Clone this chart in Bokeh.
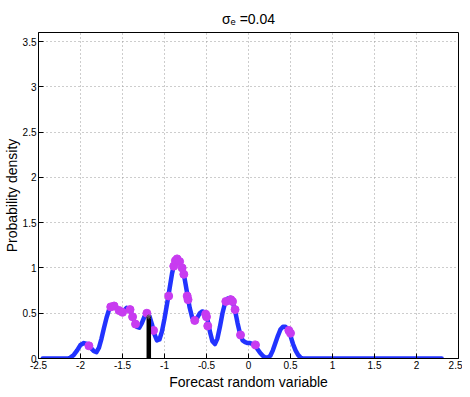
from bokeh.plotting import figure
from bokeh.models import Range1d, FixedTicker, Title
from bokeh.embed import file_html
from bokeh.resources import INLINE

# Density curve
curve_x = [-2.45, -2.15, -2.12, -2.08, -2.04, -2.00, -1.96, -1.92, -1.88, -1.84, -1.81,
           -1.78, -1.75, -1.72, -1.69, -1.66, -1.63, -1.60, -1.57, -1.54, -1.51,
           -1.48, -1.45, -1.42, -1.39, -1.36, -1.33, -1.30, -1.27, -1.24, -1.21,
           -1.18, -1.15, -1.12, -1.09, -1.06, -1.03, -1.00, -0.97, -0.94, -0.91,
           -0.88, -0.85, -0.82, -0.79, -0.76, -0.73, -0.70, -0.67, -0.64, -0.61,
           -0.58, -0.55, -0.52, -0.49, -0.46, -0.43, -0.40, -0.37, -0.34, -0.31,
           -0.28, -0.25, -0.22, -0.19, -0.16, -0.13, -0.10, -0.07, -0.04, -0.01,
           0.02, 0.05, 0.08, 0.11, 0.14, 0.17, 0.20, 0.23, 0.26, 0.29,
           0.32, 0.35, 0.38, 0.41, 0.44, 0.47, 0.50, 0.53, 0.56, 0.59,
           0.62, 0.65, 2.30]
curve_y = [0.0, 0.0, 0.01, 0.04, 0.09, 0.15, 0.17, 0.16, 0.12, 0.08, 0.07,
           0.12, 0.22, 0.34, 0.45, 0.54, 0.58, 0.58, 0.56, 0.53, 0.51,
           0.53, 0.56, 0.55, 0.49, 0.41, 0.35, 0.34, 0.39, 0.46, 0.50,
           0.47, 0.38, 0.27, 0.20, 0.21, 0.30, 0.44, 0.60, 0.77, 0.94,
           1.06, 1.10, 1.07, 1.00, 0.88, 0.72, 0.56, 0.45, 0.42, 0.45,
           0.50, 0.52, 0.51, 0.44, 0.30, 0.19, 0.16, 0.22, 0.35, 0.50,
           0.61, 0.66, 0.67, 0.63, 0.53, 0.39, 0.27, 0.20, 0.18, 0.17,
           0.17, 0.16, 0.14, 0.10, 0.06, 0.03, 0.01, 0.01, 0.03, 0.09,
           0.17, 0.25, 0.32, 0.35, 0.35, 0.32, 0.25, 0.16, 0.09, 0.04,
           0.01, 0.0, 0.0]

# Sample points on the curve
dot_x = [-1.90, -1.64, -1.60, -1.54, -1.50, -1.41, -1.38, -1.345, -1.21, -1.13,
         -0.95, -0.89, -0.87, -0.85, -0.82, -0.79, -0.77, -0.73, -0.72, -0.64,
         -0.51, -0.50, -0.485, -0.27, -0.21, -0.19, -0.16, -0.095, 0.083, 0.48, 0.50]
dot_y = [0.14, 0.57, 0.58, 0.53, 0.51, 0.54, 0.46, 0.38, 0.50, 0.31,
         0.69, 1.02, 1.08, 1.10, 1.07, 1.00, 0.93, 0.69, 0.65, 0.42,
         0.49, 0.46, 0.36, 0.63, 0.65, 0.63, 0.54, 0.26, 0.15, 0.31, 0.28]

# Observation bar
obs_x = [-1.187]
obs_y = [0.46]
obs_base = [0.0]

x_ticks = [-2.5, -2.0, -1.5, -1.0, -0.5, 0.0, 0.5, 1.0, 1.5, 2.0, 2.5]
x_tick_labels = ["-2.5", "-2", "-1.5", "-1", "-0.5", "0", "0.5", "1", "1.5", "2", "2.5"]
y_ticks = [0.0, 0.5, 1.0, 1.5, 2.0, 2.5, 3.0, 3.5]
y_tick_labels = ["0", "0.5", "1", "1.5", "2", "2.5", "3", "3.5"]

title_text = "σₑ =0.04"
x_label = "Forecast random variable"
y_label = "Probability density"

FONT = "Liberation Sans"

p = figure(width=462, height=389, output_backend="svg", toolbar_location=None,
           x_range=Range1d(-2.5, 2.5), y_range=Range1d(0, 3.6),
           min_border_top=32, min_border_right=4, min_border_left=0, min_border_bottom=0)
p.title = Title(text=title_text, align="center", text_font=FONT, text_font_size="14px",
                text_font_style="normal", text_color="black", standoff=12, offset=0)
p.background_fill_color = "white"
p.border_fill_color = "white"
p.outline_line_color = "black"
p.outline_line_width = 1

def style_axis(ax, ticks, labels):
    ax.ticker = FixedTicker(ticks=ticks)
    ax.major_label_overrides = {t: l for t, l in zip(ticks, labels)}
    ax.major_tick_in = 5
    ax.major_tick_out = 0
    ax.minor_tick_line_color = None
    ax.axis_line_color = "black"
    ax.major_tick_line_color = "black"
    ax.major_label_text_font = FONT
    ax.major_label_text_font_size = "10px"
    ax.major_label_text_color = "black"
    ax.major_label_standoff = 2
    ax.axis_label_text_font = FONT
    ax.axis_label_text_font_size = "14px"
    ax.axis_label_text_font_style = "normal"
    ax.axis_label_text_color = "black"
    ax.axis_label_standoff = 0

style_axis(p.xaxis[0], x_ticks, x_tick_labels)
style_axis(p.yaxis[0], y_ticks, y_tick_labels)
p.yaxis[0].axis_label = y_label

p.add_layout(Title(text=x_label, align="center", text_font=FONT, text_font_size="14px",
                   text_font_style="normal", text_color="black", standoff=0, offset=0),
             "below")

p.xgrid[0].ticker = FixedTicker(ticks=x_ticks)
p.ygrid[0].ticker = FixedTicker(ticks=y_ticks)
for g in (p.xgrid[0], p.ygrid[0]):
    g.grid_line_color = "#9a9a9a"
    g.grid_line_dash = "1 3"
    g.grid_line_width = 1

p.line(curve_x, curve_y, line_color="#2233ff", line_width=4.5, line_join="round", line_cap="round")
p.scatter(dot_x, dot_y, size=8, fill_color="#c83cf0", line_color="#c83cf0")
p.segment(x0=obs_x, y0=obs_base, x1=obs_x, y1=obs_y, line_color="black", line_width=4.5)
p.scatter(obs_x, obs_y, marker="asterisk", size=5, line_color="#555555")

open("out.html", "w").write(file_html(p, INLINE))
